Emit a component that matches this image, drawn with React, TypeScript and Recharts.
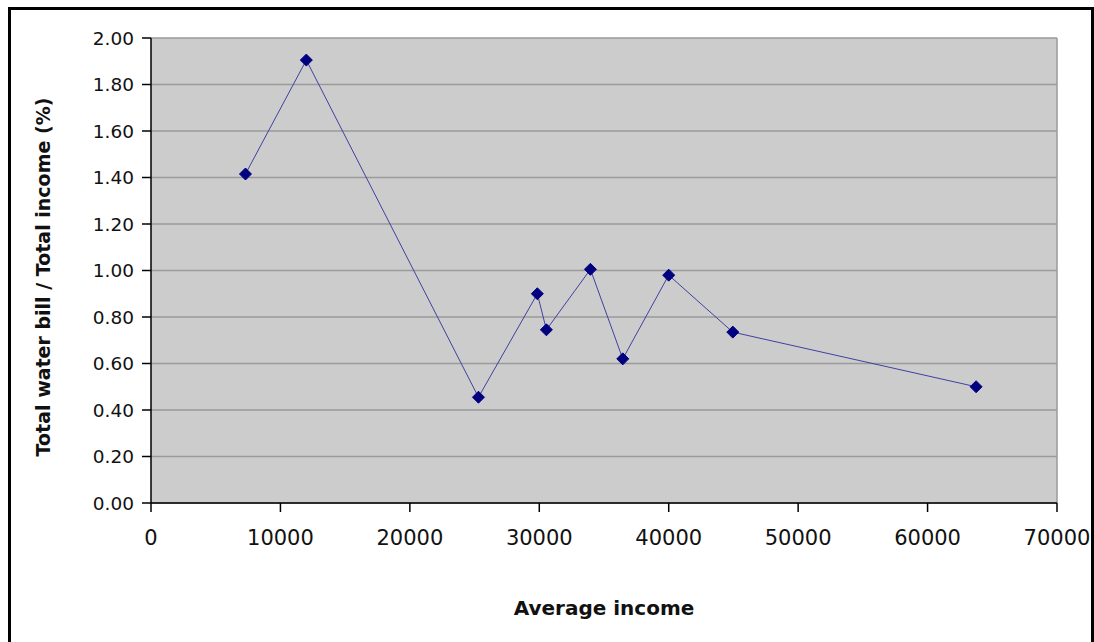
import React from "react";
import { CartesianGrid, Line, LineChart, ReferenceLine, XAxis, YAxis } from "recharts";

const incomes = [7300, 12000, 25300, 29850, 30550, 33950, 36450, 40000, 44950, 63750];
const ratios = [1.415, 1.905, 0.455, 0.9, 0.745, 1.005, 0.62, 0.98, 0.735, 0.5];
const xTicks = [0, 10000, 20000, 30000, 40000, 50000, 60000, 70000];
const yTicks = [0, 0.2, 0.4, 0.6, 0.8, 1.0, 1.2, 1.4, 1.6, 1.8, 2.0];

const data = incomes.map((income, i) => ({ income, ratio: ratios[i] }));

function Diamond(props: any) {
  const { cx, cy } = props;
  if (cx == null || cy == null) return null;
  const r = 6;
  return (
    <polygon
      points={`${cx},${cy - r} ${cx + r},${cy} ${cx},${cy + r} ${cx - r},${cy}`}
      fill="#000080"
      stroke="#000080"
    />
  );
}

export default function App() {
  return (
    <div style={{ position: "absolute", left: 0, top: 0, width: 1094, height: 642, background: "#fff", overflow: "hidden" }}>
      <div
        style={{
          position: "absolute",
          left: 8,
          top: 7,
          width: 1086,
          height: 700,
          border: "3px solid #000",
          boxSizing: "border-box",
        }}
      />
      <LineChart
        width={1094}
        height={642}
        data={data}
        margin={{ top: 38, right: 37, bottom: 99, left: 91 }}
        style={{ position: "absolute", left: 0, top: 0 }}
      >
        <CartesianGrid vertical={false} stroke="#9a9a9a" strokeWidth={1.5} fill="#cccccc" fillOpacity={1} />
        <ReferenceLine x={70000} stroke="#9a9a9a" strokeWidth={1.5} />
        <XAxis
          type="number"
          dataKey="income"
          domain={[0, 70000]}
          ticks={xTicks}
          interval={0}
          height={40}
          tickSize={9}
          tickMargin={18}
          stroke="#000"
          strokeWidth={1.5}
          tick={{ fill: "#111", fontSize: 21, fontFamily: "DejaVu Sans" }}
        />
        <YAxis
          type="number"
          domain={[0, 2]}
          ticks={yTicks}
          interval={0}
          width={60}
          tickSize={9}
          tickMargin={8}
          stroke="#000"
          strokeWidth={1.5}
          tickFormatter={(v: number) => v.toFixed(2)}
          tick={{ fill: "#111", fontSize: 18.5, fontFamily: "DejaVu Sans" }}
        />
        <Line
          type="linear"
          dataKey="ratio"
          stroke="#4040a0"
          strokeWidth={1}
          dot={<Diamond />}
          activeDot={false}
          isAnimationActive={false}
        />
      </LineChart>
      <div
        style={{
          position: "absolute",
          left: 404,
          width: 400,
          top: 596,
          textAlign: "center",
          fontFamily: "DejaVu Sans",
          fontWeight: "bold",
          fontSize: 20,
          color: "#111",
        }}
      >
        Average income
      </div>
      <div
        style={{
          position: "absolute",
          left: 43,
          top: 277,
          transform: "translate(-50%, -50%) rotate(-90deg)",
          whiteSpace: "nowrap",
          fontFamily: "DejaVu Sans",
          fontWeight: "bold",
          fontSize: 19,
          color: "#111",
        }}
      >
        Total water bill / Total income (%)
      </div>
    </div>
  );
}
